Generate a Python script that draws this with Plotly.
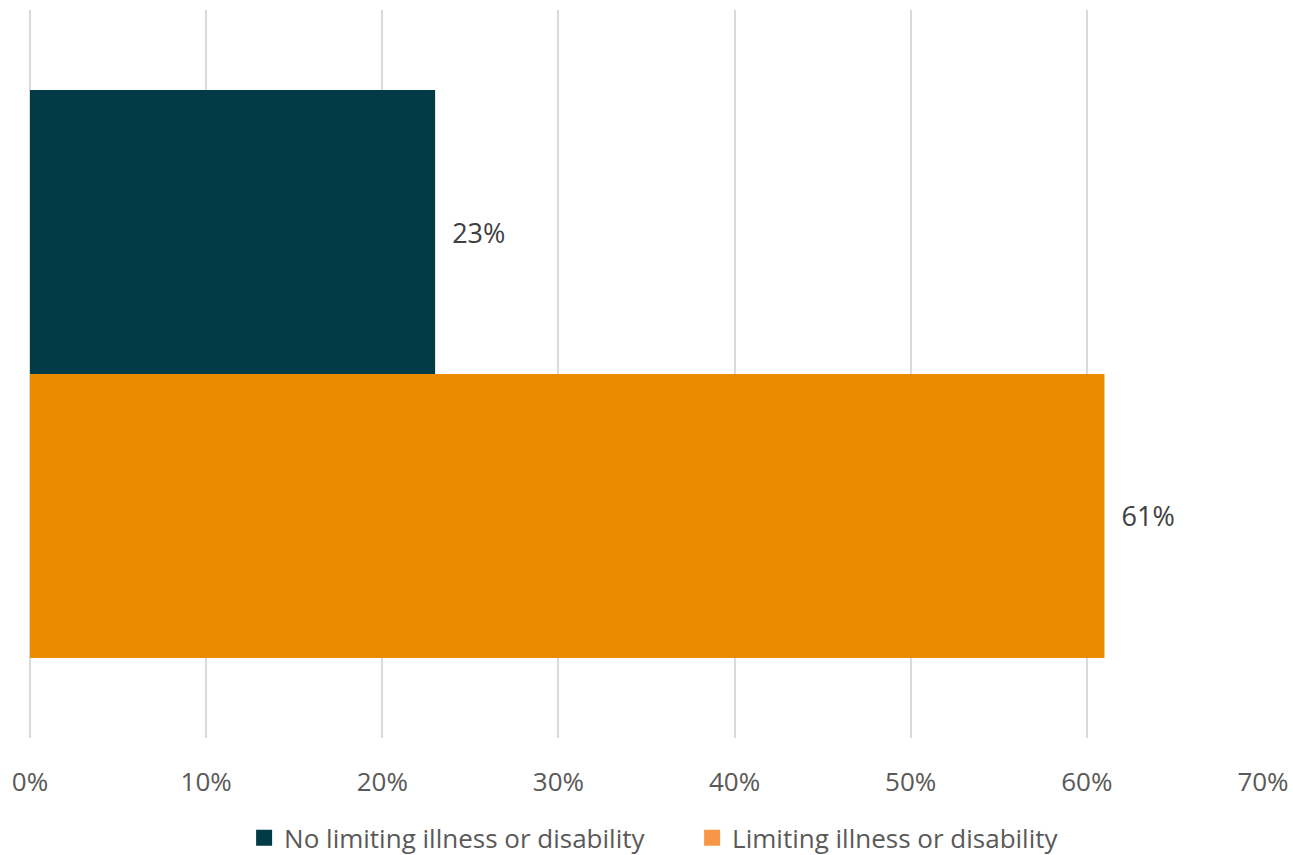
import plotly.graph_objects as go

# Share of respondents by health status
category = ["All"]
series_names = ["No limiting illness or disability", "Limiting illness or disability"]
series_values = [[23], [61]]
bar_colors = ["#023b45", "#eb8c00"]
legend_colors = ["#023b45", "#f79646"]
x_ticks = [0, 10, 20, 30, 40, 50, 60, 70]
x_tick_labels = [f"{t}%" for t in x_ticks]

FONT = "'Open Sans', sans-serif"

fig = go.Figure()
for name, vals, col in zip(series_names, series_values, bar_colors):
    fig.add_trace(go.Bar(
        y=category, x=vals, orientation="h", name=name,
        marker=dict(color=col, line=dict(width=0)),
        text=[f"  {v}%" for v in vals], textposition="outside",
        textfont=dict(family=FONT, size=27, color="#404040"),
        cliponaxis=False, showlegend=False,
    ))

# Legend entries with their own swatch colours, on a hidden overlay axis
for name, col in zip(series_names, legend_colors):
    fig.add_trace(go.Scatter(
        x=[None], y=[None], mode="markers", name=name, yaxis="y2",
        marker=dict(color=col, symbol="square", size=16),
        showlegend=True, hoverinfo="skip",
    ))

fig.update_layout(
    width=1293, height=855,
    margin=dict(l=30, r=30, t=10, b=117, autoexpand=False),
    plot_bgcolor="white", paper_bgcolor="white",
    barmode="group", bargap=0.22, bargroupgap=0,
    font=dict(family=FONT, color="#595959"),
    xaxis=dict(
        range=[0, 70], tickvals=x_ticks, ticktext=x_tick_labels,
        showgrid=True, gridcolor="#d9d9d9", gridwidth=2,
        zeroline=True, zerolinecolor="#d9d9d9", zerolinewidth=2,
        showline=False, automargin=False,
        tickfont=dict(family=FONT, size=26, color="#595959"),
        ticklabelstandoff=26,
    ),
    yaxis=dict(visible=False, autorange="reversed"),
    yaxis2=dict(visible=False, overlaying="y", range=[0, 1]),
    legend=dict(
        orientation="h", x=0.537, xanchor="center", y=-0.105, yanchor="top",
        font=dict(family=FONT, size=26, color="#595959"),
        traceorder="normal", itemsizing="trace", entrywidth=403,
    ),
)

fig.write_html("out.html")
